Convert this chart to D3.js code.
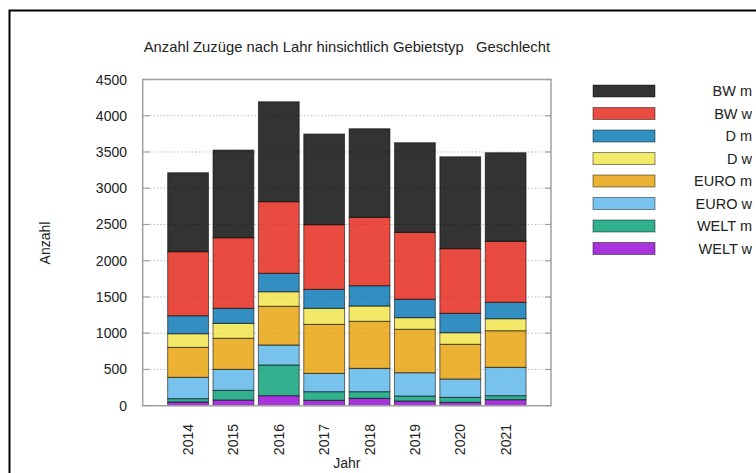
<!DOCTYPE html>
<html lang="de">
<head>
<meta charset="UTF-8">
<script src="https://d3js.org/d3.v7.min.js"></script>
<style>
    body { margin: 0; background: white; }
    text { font-family: "Liberation Sans", Arial, sans-serif; fill: #222; }
</style>
</head>
<body>
<div id="chart"></div>
<script>
    // ---- data ----
    const years = ["2014", "2015", "2016", "2017", "2018", "2019", "2020", "2021"];
    const series = ["WELT w", "WELT m", "EURO w", "EURO m", "D w", "D m", "BW w", "BW m"];
    const weltW = [51, 78, 138, 74, 101, 64, 46, 83];
    const weltM = [46, 134, 423, 119, 92, 69, 69, 55];
    const euroW = [294, 289, 276, 253, 322, 322, 253, 391];
    const euroM = [414, 429, 534, 676, 649, 599, 479, 505];
    const dW = [188, 206, 201, 221, 211, 160, 160, 166];
    const dM = [248, 207, 254, 262, 280, 254, 267, 226];
    const bwW = [883, 974, 988, 892, 943, 923, 892, 841];
    const bwM = [1090, 1210, 1379, 1251, 1223, 1237, 1268, 1223];
    const yTicks = [0, 500, 1000, 1500, 2000, 2500, 3000, 3500, 4000, 4500];
    const colors = ["#9400d3", "#009e73", "#56b4e9", "#e69f00", "#f0e442", "#0072b2", "#e51e10", "#000000"];

    const values = [weltW, weltM, euroW, euroM, dW, dM, bwW, bwM];
    const rows = years.map((y, i) => {
        const r = { year: y };
        series.forEach((s, k) => r[s] = values[k][i]);
        return r;
    });
    const stacked = d3.stack().keys(series)(rows);

    const W = 756, H = 473;
    const plot = { left: 142.7, right: 551, top: 79.5, bottom: 405.7 };

    const svg = d3.select("#chart").append("svg")
        .attr("width", W)
        .attr("height", H);

    // outer frame
    svg.append("rect")
        .attr("x", 9.5).attr("y", 10.5)
        .attr("width", 800).attr("height", 500)
        .attr("fill", "none").attr("stroke", "#000").attr("stroke-width", 2);

    // x positions: bars centred on 0..7, axis range -1..8
    const x = d3.scaleLinear().domain([-1, 8]).range([plot.left, plot.right]);
    const y = d3.scaleLinear().domain([0, 4500]).range([plot.bottom, plot.top]);
    const barW = (x(1) - x(0)) * 0.9;

    // grid
    svg.append("g").selectAll("line")
        .data(yTicks.slice(1, -1))
        .join("line")
        .attr("x1", plot.left).attr("x2", plot.right)
        .attr("y1", d => y(d)).attr("y2", d => y(d))
        .attr("stroke", "#bbb").attr("stroke-width", 1)
        .attr("stroke-dasharray", "1.5,2");

    // bars
    svg.append("g").selectAll("g")
        .data(stacked)
        .join("g")
        .attr("fill", (d, k) => colors[k])
        .selectAll("rect")
        .data(d => d)
        .join("rect")
        .attr("x", (d, i) => x(i) - barW / 2)
        .attr("y", d => y(d[1]))
        .attr("width", barW)
        .attr("height", d => y(d[0]) - y(d[1]))
        .attr("fill-opacity", 0.8)
        .attr("stroke", "rgba(0,0,0,0.55)")
        .attr("stroke-width", 1);

    // frame around the plot
    svg.append("rect")
        .attr("x", plot.left).attr("y", plot.top)
        .attr("width", plot.right - plot.left)
        .attr("height", plot.bottom - plot.top)
        .attr("fill", "none").attr("stroke", "#a0a0a0").attr("stroke-width", 1.5);

    // y ticks (inward, both sides) and labels
    const yt = svg.append("g");
    yt.selectAll("line.l").data(yTicks).join("line")
        .attr("x1", plot.left).attr("x2", plot.left + 7)
        .attr("y1", d => y(d)).attr("y2", d => y(d))
        .attr("stroke", "#a0a0a0").attr("stroke-width", 1.2);
    yt.selectAll("line.r").data(yTicks).join("line")
        .attr("x1", plot.right).attr("x2", plot.right - 6)
        .attr("y1", d => y(d)).attr("y2", d => y(d))
        .attr("stroke", "#a0a0a0").attr("stroke-width", 1.2);
    yt.selectAll("text").data(yTicks).join("text")
        .attr("x", 127).attr("y", d => y(d) + 5)
        .attr("text-anchor", "end")
        .attr("font-size", 14)
        .text(d => d);

    // x labels (rotated)
    svg.append("g").selectAll("text")
        .data(years)
        .join("text")
        .attr("transform", (d, i) => `translate(${x(i) + 5},424) rotate(-90)`)
        .attr("text-anchor", "end")
        .attr("font-size", 14)
        .text(d => d);

    // axis titles
    svg.append("text")
        .attr("x", (plot.left + plot.right) / 2).attr("y", 468)
        .attr("text-anchor", "middle").attr("font-size", 14)
        .text("Jahr");
    svg.append("text")
        .attr("transform", "translate(50,243) rotate(-90)")
        .attr("text-anchor", "middle").attr("font-size", 14)
        .text("Anzahl");

    // title
    svg.append("text")
        .attr("x", (plot.left + plot.right) / 2).attr("y", 52)
        .attr("text-anchor", "middle").attr("font-size", 14.8)
        .style("white-space", "pre")
        .text("Anzahl Zuzüge nach Lahr hinsichtlich Gebietstyp   Geschlecht");

    // legend, top entry = last series
    const legend = svg.append("g").selectAll("g")
        .data(series.slice().reverse())
        .join("g")
        .attr("transform", (d, i) => `translate(0,${85 + i * 22.5})`);
    legend.append("rect")
        .attr("x", 593).attr("y", 0)
        .attr("width", 62).attr("height", 12)
        .attr("fill", d => colors[series.indexOf(d)])
        .attr("fill-opacity", 0.8)
        .attr("stroke", "rgba(0,0,0,0.45)").attr("stroke-width", 1);
    legend.append("text")
        .attr("x", 752).attr("y", 11)
        .attr("text-anchor", "end").attr("font-size", 14.5)
        .text(d => d);
</script>
</body>
</html>
